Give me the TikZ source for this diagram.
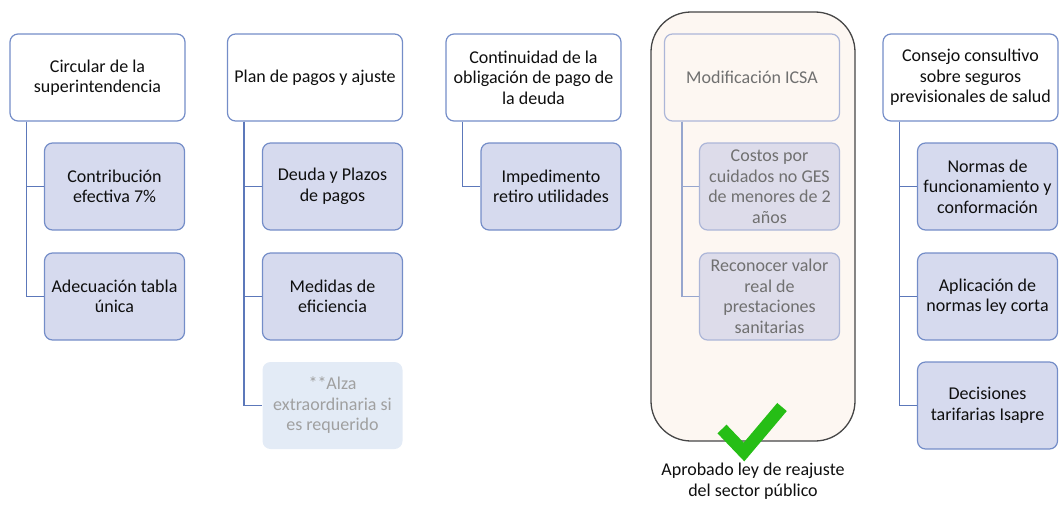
\documentclass[tikz,border=0pt]{standalone}
\usepackage{fontspec}
\setmainfont{Carlito}
\usetikzlibrary{calc}
\definecolor{bborder}{RGB}{116,141,200}
\definecolor{bline}{RGB}{92,120,186}
\definecolor{cfill}{RGB}{214,218,238}
\definecolor{txt}{RGB}{15,15,15}
\definecolor{contfill}{RGB}{253,247,242}
\definecolor{contborder}{RGB}{70,70,70}
\definecolor{gborder}{RGB}{172,182,216}
\definecolor{gline}{RGB}{150,166,206}
\definecolor{gfill}{RGB}{221,220,234}
\definecolor{gtxt}{RGB}{112,112,112}
\definecolor{ffill}{RGB}{227,235,246}
\definecolor{ftxt}{RGB}{160,160,160}
\definecolor{chk}{RGB}{38,190,22}
\begin{document}
\begin{tikzpicture}[x=1pt,y=-1pt,
  base/.style={rounded corners=8pt, line width=1.2pt, align=center, inner sep=0pt,
    font=\fontsize{18}{20.5}\selectfont, text=txt},
  topbox/.style={base, draw=bborder, fill=white, minimum width=175pt, minimum height=87pt},
  childbox/.style={base, draw=bborder, fill=cfill, minimum width=140pt, minimum height=87pt},
  gtopbox/.style={base, draw=gborder, fill=contfill, text=gtxt, minimum width=175pt, minimum height=87pt},
  gchildbox/.style={base, draw=gborder, fill=gfill, text=gtxt, minimum width=140pt, minimum height=87pt},
  fadedbox/.style={base, draw=none, fill=ffill, text=ftxt, minimum width=140pt, minimum height=87pt},
  conn/.style={draw=bline, line width=1.5pt},
  gconn/.style={draw=gline, line width=1.5pt},
  container/.style={draw=contborder, fill=contfill, line width=1.3pt, rounded corners=40pt}
]
\useasboundingbox (0,0) rectangle (1062,511);

% container for column 4
\node[container, minimum width=204pt, minimum height=429pt, inner sep=0pt] (cont) at (753,226.5) {};

% Column 1
\node[topbox] (a) at (97.5,77.5) {Circular de la\\superintendencia};
\node[childbox] (a1) at (114.5,186.5) {Contribución\\efectiva 7\%};
\node[childbox] (a2) at (114.5,296.5) {Adecuación tabla\\única};
\draw[conn] ($(a.south west)+(17,0)$) |- (a1.west);
\draw[conn] ($(a.south west)+(17,0)$) |- (a2.west);

% Column 2
\node[topbox] (b) at (315,77.5) {Plan de pagos y ajuste};
\node[childbox] (b1) at (332.5,186.5) {Deuda y Plazos\\de pagos};
\node[childbox] (b2) at (332.5,296.5) {Medidas de\\eficiencia};
\node[fadedbox] (b3) at (332.5,405.5) {**Alza\\extraordinaria si\\es requerido};
\draw[conn] ($(b.south west)+(17,0)$) |- (b1.west);
\draw[conn] ($(b.south west)+(17,0)$) |- (b2.west);
\draw[conn] ($(b.south west)+(17,0)$) |- (b3.west);

% Column 3
\node[topbox] (c) at (533.5,77.5) {Continuidad de la\\obligación de pago de\\la deuda};
\node[childbox] (c1) at (551,186.5) {Impedimento\\retiro utilidades};
\draw[conn] ($(c.south west)+(17,0)$) |- (c1.west);

% Column 4
\node[gtopbox] (d) at (752,77.5) {Modificación ICSA};
\node[gchildbox] (d1) at (769.5,186.5) {Costos por\\cuidados no GES\\de menores de 2\\años};
\node[gchildbox] (d2) at (769.5,296.5) {Reconocer valor\\real de\\prestaciones\\sanitarias};
\draw[gconn] ($(d.south west)+(18,0)$) |- (d1.west);
\draw[gconn] ($(d.south west)+(18,0)$) |- (d2.west);

% check mark
\coordinate (k1) at (722,429);
\coordinate (k2) at (744,452);
\coordinate (k3) at (782,407);
\draw[chk, line width=12.5pt, line join=miter] (k1) -- (k2) -- (k3);
\node[base] (cap) at (753,481) {Aprobado ley de reajuste\\del sector público};

% Column 5
\node[topbox] (e) at (970.5,77.5) {Consejo consultivo\\sobre seguros\\previsionales de salud};
\node[childbox] (e1) at (987.5,186.5) {Normas de\\funcionamiento y\\conformación};
\node[childbox] (e2) at (987.5,296.5) {Aplicación de\\normas ley corta};
\node[childbox] (e3) at (987.5,405.5) {Decisiones\\tarifarias Isapre};
\draw[conn] ($(e.south west)+(17,0)$) |- (e1.west);
\draw[conn] ($(e.south west)+(17,0)$) |- (e2.west);
\draw[conn] ($(e.south west)+(17,0)$) |- (e3.west);
\end{tikzpicture}
\end{document}
